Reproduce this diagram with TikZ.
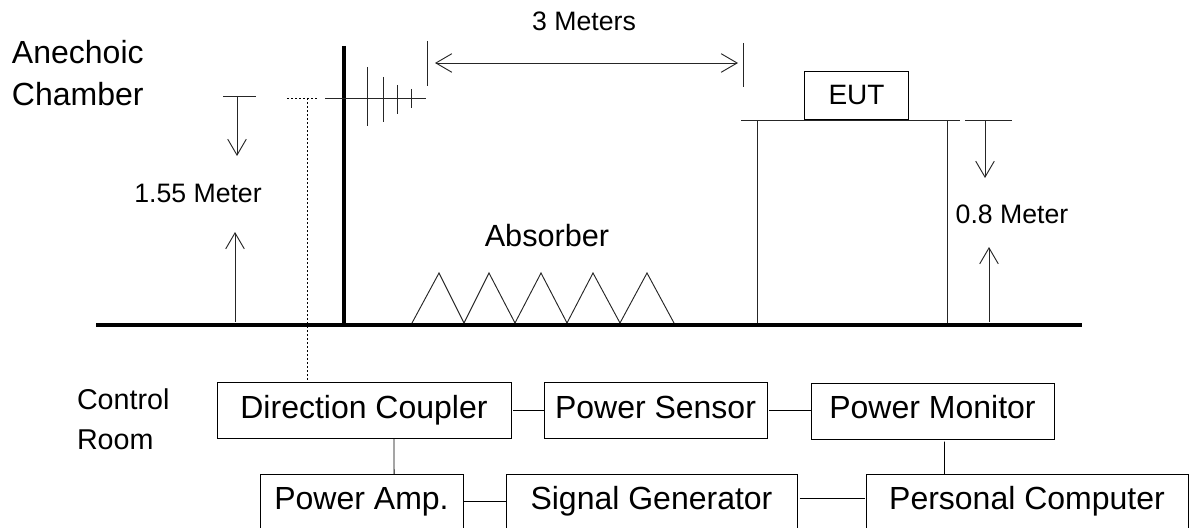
\documentclass[tikz,border=0pt]{standalone}
\usepackage{fontspec}
\setmainfont{Liberation Sans}
\usetikzlibrary{positioning, arrows.meta}

\begin{document}
\begin{tikzpicture}[
  x=0.75pt, y=-0.75pt,
  >={Straight Barb[length=12pt, width=14pt]},
  every node/.style={inner sep=0pt, outer sep=0pt},
  big/.style    = {font=\fontsize{24}{32}\selectfont},
  side/.style   = {font=\fontsize{21.5}{30}\selectfont},
  small/.style  = {font=\fontsize{20}{30}\selectfont},
  box/.style    = {big, draw, line width=0.7pt, anchor=north west, text height=27pt, text depth=15pt},
  lowbox/.style = {box, text height=26.25pt, text depth=19.5pt},
  wire/.style   = {line width=0.7pt},
  fine/.style   = {line width=0.7pt, black!85},
  heavy/.style  = {line width=3.2pt},
  dots/.style   = {line width=0.7pt, dash pattern=on 1.5pt off 1.5pt},
]
  \useasboundingbox (0,0) rectangle (1189,528);
  \clip (0,0) rectangle (1189,528);

  % chamber
  \draw[heavy] (96,325) -- (1082,325);
  \draw[heavy] (344,46) -- (344,325);
  \node[big, align=left, anchor=base west] (chamber) at (12,106) {Anechoic\\Chamber};
  \node[small, anchor=base] (dist) at (584,31) {3 Meters};
  \node[small, anchor=base] (high) at (198,202) {1.55 Meter};
  \node[small, anchor=base] (low) at (1012,223) {0.8 Meter};
  \node[font=\fontsize{23}{30}\selectfont, anchor=base] (abs) at (547,246) {Absorber};

  % antenna
  \draw[fine] (325,98) -- (426,98);
  \foreach \x/\t/\b in {367/67/126,383/77/122,397/85/114,411/89/108}\draw[fine] (\x,\t) -- (\x,\b);
  \draw[dots] (287,98) -- (318,98);

  % absorber
  \foreach \a/\b/\c in {412/439/464,464/489/515,515/541/567,567/593/620,620/647/674}\draw[fine] (\a,323) -- (\b,273) -- (\c,323);

  % table
  \node[draw, line width=0.7pt, minimum width=78pt, minimum height=36pt, font=\fontsize{21}{30}\selectfont] (eut) at (856.5,95) {EUT};
  \draw[fine] (741,120) -- (960,120);
  \foreach \x in {757,947}\draw[fine] (\x,120) -- (\x,323);

  % dimensions
  \draw[fine] (427,41) -- (427,86);
  \draw[fine] (743,43) -- (743,87);
  \draw[fine, <->] (435,63) -- (738,63);
  \draw[fine] (223,96) -- (256,96);
  \draw[fine, ->] (237,96) -- (237,156);
  \draw[fine, ->] (235,322) -- (235,232);
  \draw[fine] (965,120) -- (1012,120);
  \draw[fine, ->] (985,120) -- (985,178);
  \draw[fine, ->] (989,322) -- (989,247);

  % control room
  \node[side, align=left, anchor=base west] (room) at (77,449) {Control\\Room};
  \node[box, minimum width=220.5pt]                  (coupler) at (217,382) {Direction Coupler};
  \node[box, minimum width=167.25pt, right=24.75pt of coupler.north east, anchor=north west] (sensor) {Power Sensor};
  \node[box, minimum width=182.25pt, text height=26.25pt, text depth=15.75pt] (monitor) at (811,383) {Power Monitor};
  \node[lowbox, minimum width=152.25pt]              (amp) at (260,474) {Power Amp.};
  \node[lowbox, minimum width=218.25pt]              (gen) at (506,474) {Signal Generator};
  \node[lowbox, minimum width=241.5pt]               (pc)  at (866,474) {Personal Computer};

  \coordinate (top) at (307,98);
  \draw[dots] (top) -- (top |- coupler.north);
  \draw[wire, shorten <=1.5pt] (coupler) -- (sensor);
  \draw[wire, shorten <=1.5pt] (sensor.east) -- (sensor.east -| monitor.west);
  \draw[wire] ([xshift=22.5pt]coupler.south) -- ([xshift=24.4pt]amp.north);
  \draw[wire, shorten <=2pt] ([xshift=9pt]monitor.south) -- ([xshift=-61.9pt]pc.north);
  \draw[wire] ([yshift=2.25pt]amp.east) -- ([yshift=2.25pt]gen.west);
  \draw[wire, shorten <=2pt, shorten >=1pt] ([yshift=4.5pt]gen.east) -- ([yshift=4.5pt]pc.west);
\end{tikzpicture}
\end{document}
